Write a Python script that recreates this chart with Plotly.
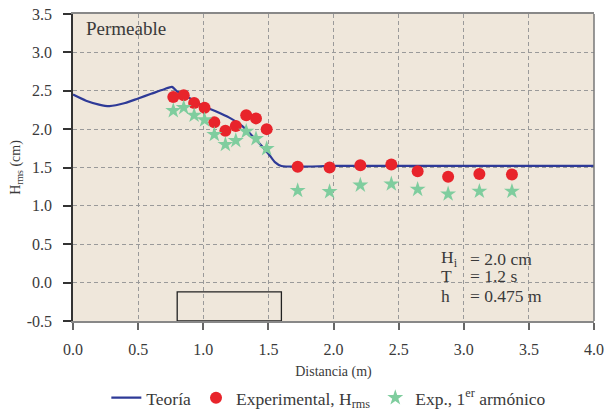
import plotly.graph_objects as go

# Theoretical wave-height profile along the flume
theory_x = [0.0, 0.1, 0.2, 0.28, 0.4, 0.5, 0.6, 0.7, 0.76, 0.8, 0.9, 1.0, 1.1,
            1.2, 1.3, 1.4, 1.5, 1.55, 1.6, 2.0, 2.5, 3.0, 3.5, 4.0]
theory_h = [2.45, 2.37, 2.32, 2.30, 2.34, 2.40, 2.46, 2.52, 2.55, 2.49, 2.40,
            2.30, 2.23, 2.15, 2.04, 1.87, 1.68, 1.57, 1.52, 1.52, 1.52, 1.52,
            1.52, 1.52]

# Measured gauge positions
gauge_x = [0.77, 0.85, 0.93, 1.01, 1.085, 1.17, 1.25, 1.33, 1.405, 1.487,
           1.725, 1.97, 2.206, 2.444, 2.646, 2.88, 3.12, 3.37]
# Experimental H_rms
hrms = [2.42, 2.44, 2.34, 2.28, 2.09, 1.98, 2.04, 2.18, 2.14, 2.00,
        1.51, 1.50, 1.53, 1.54, 1.45, 1.38, 1.415, 1.41]
# First-harmonic amplitude
h1 = [2.24, 2.28, 2.18, 2.12, 1.93, 1.80, 1.85, 1.97, 1.875, 1.745,
      1.20, 1.185, 1.27, 1.285, 1.215, 1.155, 1.19, 1.19]

# Submerged permeable structure outline
struct_x = [0.8, 1.6]
struct_top = -0.12

x_ticks = [0.0, 0.5, 1.0, 1.5, 2.0, 2.5, 3.0, 3.5, 4.0]
y_ticks = [-0.5, 0.0, 0.5, 1.0, 1.5, 2.0, 2.5, 3.0, 3.5]

FONT = "Liberation Serif, serif"
TXT = "#3a3a3a"

fig = go.Figure()
fig.add_trace(go.Scatter(
    x=theory_x, y=theory_h, mode="lines", name="Teoría",
    line=dict(color="#2E3A97", width=2.2, shape="spline", smoothing=0.6)))
fig.add_trace(go.Scatter(
    x=gauge_x, y=hrms, mode="markers", name="Experimental, H<sub>rms</sub>",
    marker=dict(color="#E8242B", size=12, symbol="circle")))
fig.add_trace(go.Scatter(
    x=gauge_x, y=h1, mode="markers", name="Exp., 1<sup>er</sup> armónico",
    marker=dict(color="#7FCD9E", size=12, symbol="star")))

# structure box
fig.add_shape(type="rect", x0=struct_x[0], x1=struct_x[1], y0=-0.5, y1=struct_top,
              line=dict(color="#222222", width=1.3), fillcolor="rgba(0,0,0,0)")
# right frame edge
fig.add_shape(type="line", xref="paper", yref="paper", x0=1, x1=1, y0=0, y1=1,
              line=dict(color="#777777", width=1.5))

fig.add_annotation(x=0.085, y=3.305, xref="x", yref="y", text="Permeable",
                   showarrow=False, xanchor="left", yanchor="middle",
                   font=dict(family=FONT, size=19, color=TXT))

labels_left = ["H<sub>i</sub>", "T", "h"]
labels_right = ["= 2.0 cm", "= 1.2 s", "= 0.475 m"]
rows_y = [0.31, 0.085, -0.17]
for lab, val, yy in zip(labels_left, labels_right, rows_y):
    fig.add_annotation(x=2.81, y=yy, text=lab, showarrow=False, xanchor="left",
                       yanchor="middle", font=dict(family=FONT, size=17.5, color=TXT))
    fig.add_annotation(x=3.03, y=yy, text=val, showarrow=False, xanchor="left",
                       yanchor="middle", font=dict(family=FONT, size=17.5, color=TXT))

grid = dict(showgrid=True, gridcolor="#9a9a9a", griddash="4px,3px", gridwidth=1)

fig.update_xaxes(range=[0, 4], tickvals=x_ticks,
                 ticktext=[f"{v:.1f}" for v in x_ticks],
                 ticks="outside", ticklen=7, tickcolor="#666666", tickwidth=1.5,
                 showline=True, linecolor="#888888", linewidth=1.5, mirror=True,
                 zeroline=False, ticklabelstandoff=6, automargin=False,
                 title=dict(text="Distancia (m)", standoff=12,
                            font=dict(family=FONT, size=14, color=TXT)),
                 tickfont=dict(family=FONT, size=16, color=TXT), **grid)
fig.update_yaxes(range=[-0.5, 3.5], tickvals=y_ticks,
                 ticktext=[f"{v:.1f}" for v in y_ticks],
                 ticks="outside", ticklen=8, tickcolor="#333333", tickwidth=1.5,
                 showline=True, linecolor="#333333", linewidth=1.5,
                 zeroline=False, ticklabelstandoff=8, automargin=False,
                 title=dict(text="H<sub>rms</sub> (cm)", standoff=3,
                            font=dict(family=FONT, size=14, color=TXT)),
                 tickfont=dict(family=FONT, size=16, color=TXT), **grid)

fig.update_layout(
    width=606, height=411,
    margin=dict(l=73, r=12, t=14, b=90, autoexpand=False),
    paper_bgcolor="white", plot_bgcolor="#EFE7DB",
    font=dict(family=FONT, color=TXT),
    showlegend=True,
    legend=dict(orientation="h", x=0.064, xanchor="left",
                yref="container", y=0.032, yanchor="middle",
                font=dict(family=FONT, size=17.5, color=TXT),
                bgcolor="rgba(0,0,0,0)", itemwidth=30, tracegroupgap=0),
)

fig.write_html("out.html")
